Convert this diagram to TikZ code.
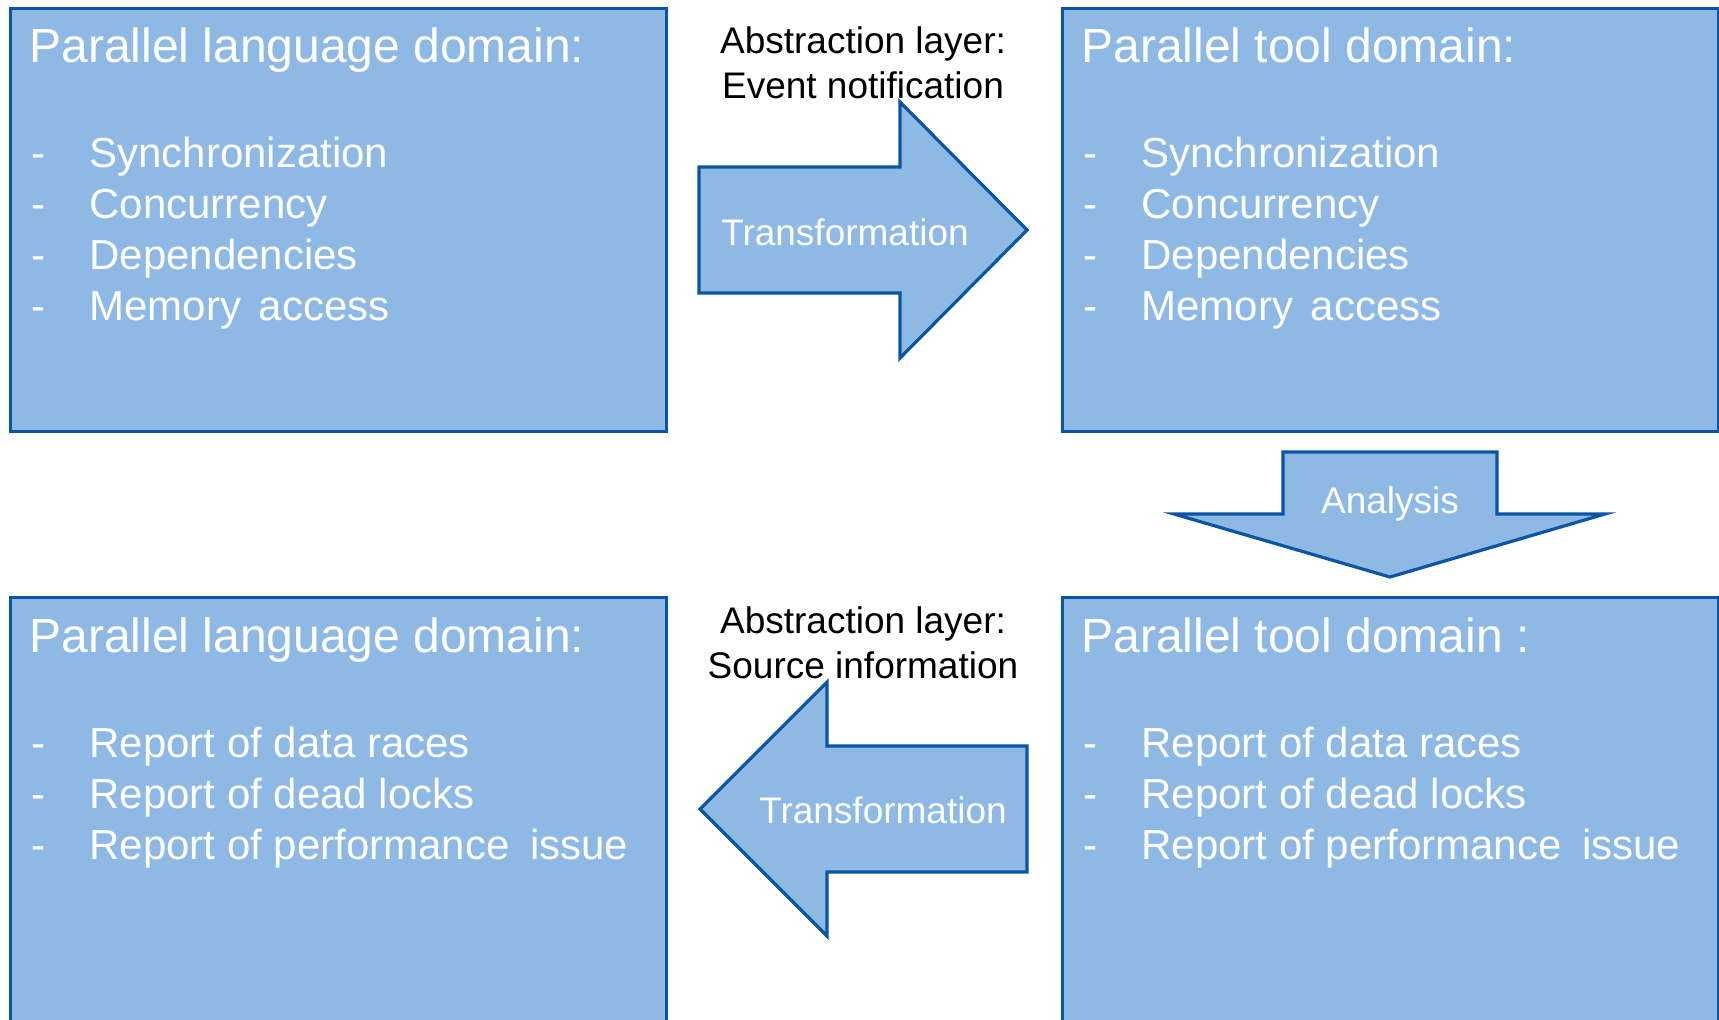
\documentclass[tikz,border=0pt]{standalone}
\usepackage{fontspec}
\setmainfont{Liberation Sans}
\usepackage{tikz}
\usetikzlibrary{positioning}
\definecolor{boxfill}{RGB}{142,185,228}
\definecolor{boxline}{RGB}{10,86,164}

\begin{document}
\begin{tikzpicture}[x=0.5pt, y=-0.5pt]
\tikzstyle{box}=[rectangle, draw=boxline, fill=boxfill, line width=1.6pt, minimum width=328pt, minimum height=211.5pt, anchor=north west, inner sep=0pt]
\tikzstyle{blockarrow}=[draw=boxline, fill=boxfill, line width=1.6pt, line join=miter]
\tikzstyle{title}=[font=\fontsize{24}{28}\selectfont, text=white, anchor=base west, inner sep=0pt]
\tikzstyle{item}=[font=\fontsize{21}{25}\selectfont, text=white, anchor=base west, inner sep=0pt]
\tikzstyle{layer}=[font=\fontsize{18.5}{22}\selectfont, text=black, anchor=base, inner sep=0pt]
\tikzstyle{inarrow}=[font=\fontsize{18.5}{22}\selectfont, text=white, anchor=base, inner sep=0pt]
  \useasboundingbox (0,0) rectangle (1719,1019);
  \clip (0,0) rectangle (1719,1019);
  % the four domains
  \node[box] (langtop) at (9,7) {};
  \node[box] (tooltop) at (1061,7) {};
  \node[box, minimum height=225pt] (langbot) at (9,596) {};
  \node[box, minimum height=225pt] (toolbot) at (1061,596) {};
  \node[title] (langtoptitle) at (29,62) {Parallel language domain:};
  \node[title] (tooltoptitle) at (1081,62) {Parallel tool domain:};
  \node[title] (langbottitle) at (29,652) {Parallel language domain:};
  \node[title] (toolbottitle) at (1081,652) {Parallel tool domain :};
  \foreach \dx/\side in {0/lang,1052/tool}{
    \foreach \txt [count=\i from 0] in {Synchronization, Concurrency, Dependencies, Memory\hspace{3pt} access}{
      \node[item] (\side topdash\i) at (31+\dx,167+51.3*\i) {-};
      \node[item] (\side topitem\i) at (89+\dx,167+51.3*\i) {\txt};
    }
    \foreach \txt [count=\i from 0] in {Report of data races, Report of dead locks, Report of performance\hspace{4.5pt} issue}{
      \node[item] (\side botdash\i) at (31+\dx,757+51*\i) {-};
      \node[item] (\side botitem\i) at (89+\dx,757+51*\i) {\txt};
    }
  }
  % block arrows
  \draw[blockarrow] (699,167) -- (900,167) -- (900,102) -- (1027,230)
    -- (900,358) -- (900,293) -- (699,293) -- cycle;
  \draw[blockarrow] (1283,452) -- (1497,452) -- (1497,514) -- (1605,514)
    -- (1390,577) -- (1174,514) -- (1283,514) -- cycle;
  \draw[blockarrow] (1027,746) -- (827,746) -- (827,682) -- (700,809)
    -- (827,936) -- (827,872) -- (1027,872) -- cycle;
  \node[inarrow] (transtop) at (845,245) {Transformation};
  \node[inarrow] (analysis) at (1390,513) {Analysis};
  \node[inarrow] (transbot) at (883,823) {Transformation};
  % abstraction layers
  \node[layer] (layertop) at (863,53) {Abstraction layer:};
  \node[layer] (eventnote) at (863,98) {Event notification};
  \node[layer] (layerbot) at (863,633) {Abstraction layer:};
  \node[layer] (sourceinfo) at (863,678) {Source information};
\end{tikzpicture}
\end{document}
